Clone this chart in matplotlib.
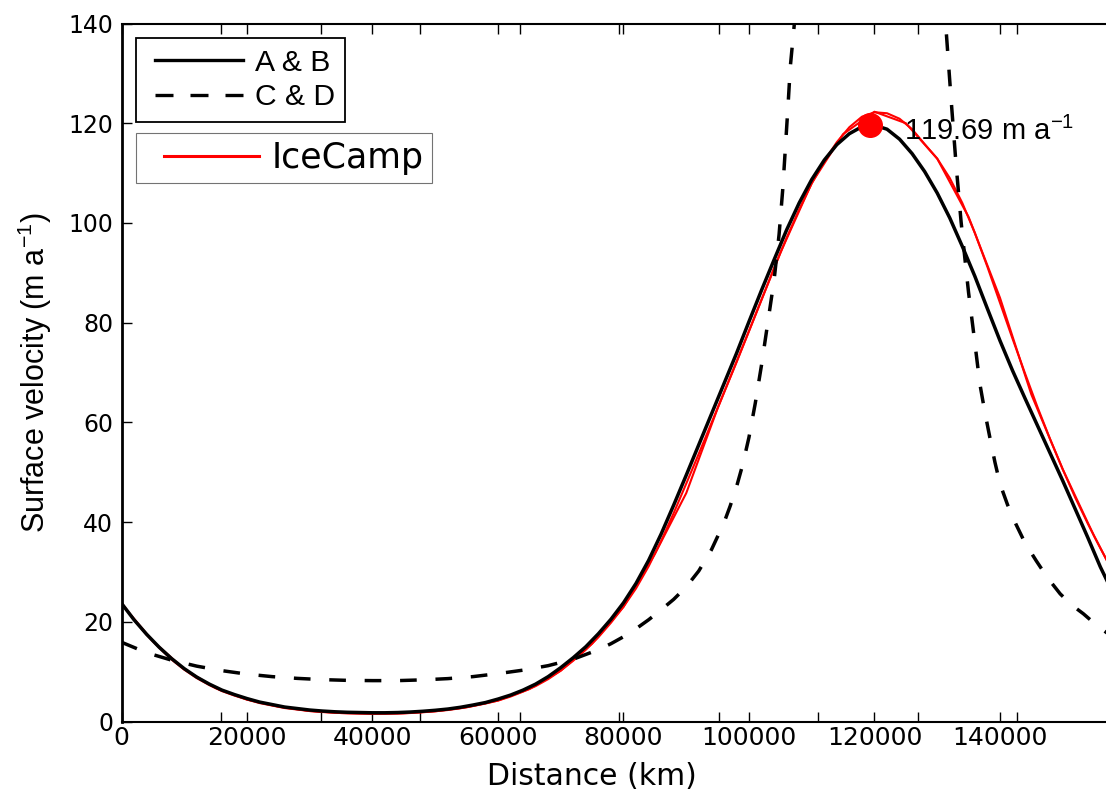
import numpy as np
import matplotlib
matplotlib.use('Agg')
import matplotlib.pyplot as plt
from matplotlib.lines import Line2D
from matplotlib.legend_handler import HandlerLine2D

plt.rcParams['font.family'] = ['DejaVu Sans']
plt.rcParams['mathtext.fontset'] = 'custom'
plt.rcParams['mathtext.rm'] = 'Liberation Sans'
plt.rcParams['mathtext.it'] = 'Liberation Sans:italic'
plt.rcParams['mathtext.bf'] = 'Liberation Sans:bold'

# distance grid (km) shared by A & B and the first IceCamp run
x_ab = [0, 2000, 4000, 6000, 8000, 10000, 12000, 14000, 16000, 18000,
        20000, 22000, 24000, 26000, 28000, 30000, 32000, 34000, 36000, 38000,
        40000, 42000, 44000, 46000, 48000, 50000, 52000, 54000, 56000, 58000,
        60000, 62000, 64000, 66000, 68000, 70000, 72000, 74000, 76000, 78000,
        80000, 82000, 84000, 86000, 88000, 90000, 92000, 94000, 96000, 98000,
        100000, 102000, 104000, 106000, 108000, 110000, 112000, 114000, 116000, 118000,
        120000, 122000, 124000, 126000, 128000, 130000, 132000, 134000, 136000, 138000,
        140000, 142000, 144000, 146000, 148000, 150000, 152000, 154000, 156000, 158000]
# A & B (solid black)
v_ab = [23.7, 20.4, 17.5, 14.9, 12.6, 10.6, 8.9, 7.5, 6.3, 5.4,
        4.6, 3.9, 3.4, 2.9, 2.6, 2.3, 2.1, 1.95, 1.85, 1.8,
        1.75, 1.75, 1.8, 1.9, 2.05, 2.25, 2.5, 2.85, 3.3, 3.8,
        4.5, 5.3, 6.3, 7.5, 9.0, 10.8, 12.8, 15.0, 17.6, 20.5,
        23.8, 27.7, 32.3, 37.6, 43.4, 49.4, 55.5, 61.6, 67.7, 73.8,
        80.2, 86.5, 92.6, 98.6, 104.0, 108.7, 112.6, 115.7, 117.9, 119.3,
        119.6, 118.8, 116.8, 113.9, 110.3, 106.0, 101.0, 95.3, 89.3, 82.8,
        76.4, 70.4, 64.8, 59.3, 53.8, 48.3, 42.6, 36.9, 31.0, 25.8]

# C & D (dashed black)
x_cd = [0, 4000, 8000, 12000, 16000, 20000, 24000, 28000, 32000, 36000,
        40000, 44000, 48000, 52000, 56000, 60000, 64000, 68000, 72000, 76000,
        78000, 80000, 82000, 84000, 86000, 88000, 90000, 92000, 94000, 96000,
        97000, 98000, 99000, 100000, 101000, 102000, 103000, 104000, 104800, 105400,
        105800, 106200, 106600, 107200, 107800, 108600, 110000, 119000, 128000, 130000,
        130800, 131400, 132200, 133000, 133800, 134400, 135000, 135700, 136800, 137600,
        138400, 139200, 140000, 141200, 142500, 144000, 145800, 147600, 149600, 151400,
        153300, 155500, 158000]
v_cd = [15.9, 13.8, 12.3, 11.1, 10.2, 9.5, 9.0, 8.65, 8.4, 8.25,
        8.2, 8.2, 8.35, 8.6, 9.0, 9.6, 10.3, 11.2, 12.5, 14.4,
        15.6, 17.0, 18.6, 20.4, 22.4, 24.5, 27.0, 30.2, 34.4, 39.8,
        43.2, 47.0, 51.5, 57.0, 63.8, 71.5, 80.0, 88.5, 97.7, 107.0,
        115.0, 123.0, 131.5, 139.5, 150.0, 170.0, 220.0, 400.0, 220.0, 165.0,
        150.0, 139.0, 125.0, 111.8, 100.3, 93.0, 86.0, 79.0, 67.7, 62.0,
        56.9, 52.0, 47.7, 43.5, 39.7, 35.8, 32.2, 28.8, 25.6, 23.4,
        21.6, 19.2, 16.9]

# IceCamp, two runs
v_ice1 = [23.8, 20.4, 17.4, 14.8, 12.4, 10.4, 8.7, 7.3, 6.1, 5.2,
          4.4, 3.7, 3.2, 2.7, 2.4, 2.1, 1.9, 1.75, 1.65, 1.6,
          1.55, 1.55, 1.6, 1.7, 1.85, 2.05, 2.3, 2.65, 3.1, 3.6,
          4.2, 5.0, 6.0, 7.1, 8.5, 10.2, 12.2, 14.4, 16.9, 19.8,
          23.0, 26.7, 31.1, 36.2, 41.8, 47.7, 53.7, 59.8, 65.9, 72.0,
          78.3, 84.6, 90.9, 97.0, 102.7, 107.9, 112.4, 116.2, 119.2, 121.3,
          122.2, 122.0, 120.9, 118.8, 115.8, 112.9, 109.0, 104.0, 98.0, 91.2,
          84.0, 76.8, 69.8, 63.0, 56.6, 50.6, 44.9, 39.7, 34.8, 30.0]
x_ice2 = [0, 5000, 10000, 15000, 20000, 25000, 30000, 35000, 40000, 45000,
          50000, 55000, 60000, 65000, 70000, 75000, 80000, 85000, 90000, 95000,
          100000, 105000, 110000, 115000, 120000, 125000, 130000, 135000, 140000, 145000,
          150000, 155000, 158000]
v_ice2 = [23.6, 16.1, 10.5, 6.7, 4.4, 3.0, 2.1, 1.7, 1.55, 1.65,
          2.05, 2.85, 4.2, 6.5, 10.2, 15.6, 23.0, 33.6, 45.8, 62.8,
          78.3, 94.0, 108.0, 117.8, 122.3, 120.0, 112.9, 101.2, 85.0, 65.6,
          50.6, 37.2, 30.0]

peak_x = 119300
peak_v = 119.69

xticks = [0, 20000, 40000, 60000, 80000, 100000, 120000, 140000]
yticks = [0, 20, 40, 60, 80, 100, 120, 140]

fig = plt.figure(figsize=(11.06, 7.9), dpi=100)
ax = fig.add_axes([121.5 / 1106, 68.5 / 790, 984.5 / 1106, 698 / 790])

ax.plot(x_ab, v_ice1, color='red', lw=1.5)
ax.plot(x_ice2, v_ice2, color='red', lw=1.5)
ax.plot(x_ab, v_ab, color='black', lw=2.5)
ax.plot(x_cd, v_cd, color='black', lw=2.5, linestyle=(0, (4.8, 5.4)))
ax.plot([peak_x], [peak_v], 'o', color='red', markersize=17, zorder=5)
ax.text(124700, 116.6, '119.69 m a$^{-1}$', fontsize=21,
        family='Liberation Sans', va='baseline', ha='left')

ax.set_xlim(0, 156900)
ax.set_ylim(0, 140)
ax.set_xticks(xticks)
ax.set_xticklabels([str(t) for t in xticks])
ax.set_yticks(yticks)
ax.set_xticks([15860 * k for k in range(1, 10)], minor=True)
ax.tick_params(which='both', direction='in', top=True, right=False,
               length=7, width=1, labelsize=17)
ax.tick_params(axis='x', pad=3, labelsize=18)
ax.tick_params(axis='y', pad=6)
ax.spines['right'].set_visible(False)
for s in ['top', 'bottom']:
    ax.spines[s].set_linewidth(1.5)
ax.spines['left'].set_linewidth(2)

ax.set_xlabel('Distance (km)', fontsize=21.5)
ax.xaxis.set_label_coords(0.4776, -0.058)
ax.set_ylabel('Surface velocity (m a$^{-1}$)', fontsize=22, family='Liberation Sans')
ax.yaxis.set_label_coords(-0.069, 0.5)

h1 = [Line2D([], [], color='black', lw=2.4),
      Line2D([], [], color='black', lw=2.4, linestyle=(0, (5.4, 5.1)))]
leg1 = ax.legend(h1, ['A & B', 'C & D'], loc='upper left',
                 bbox_to_anchor=(0.0152, 0.9792), borderaxespad=0,
                 prop={'family': 'Liberation Sans', 'size': 21.7},
                 numpoints=2, handler_map={Line2D: HandlerLine2D(marker_pad=0.25)},
                 handlelength=3.42, handletextpad=0.15, borderpad=0.35,
                 labelspacing=0.23, fancybox=False, framealpha=1)
leg1.get_frame().set_edgecolor('black')
leg1.get_frame().set_linewidth(1.3)
ax.add_artist(leg1)

h2 = [Line2D([], [], color='red', lw=2.2)]
leg2 = ax.legend(h2, ['IceCamp'], loc='upper left',
                 bbox_to_anchor=(0.0152, 0.8431), borderaxespad=0,
                 prop={'family': 'DejaVu Sans', 'size': 25},
                 numpoints=2, handler_map={Line2D: HandlerLine2D(marker_pad=0.55)},
                 handlelength=3.84, handletextpad=-0.17, borderpad=0.235,
                 fancybox=False, framealpha=1)
leg2.get_frame().set_edgecolor('0.45')
leg2.get_frame().set_linewidth(0.8)

fig.savefig('out.png', dpi=100)
